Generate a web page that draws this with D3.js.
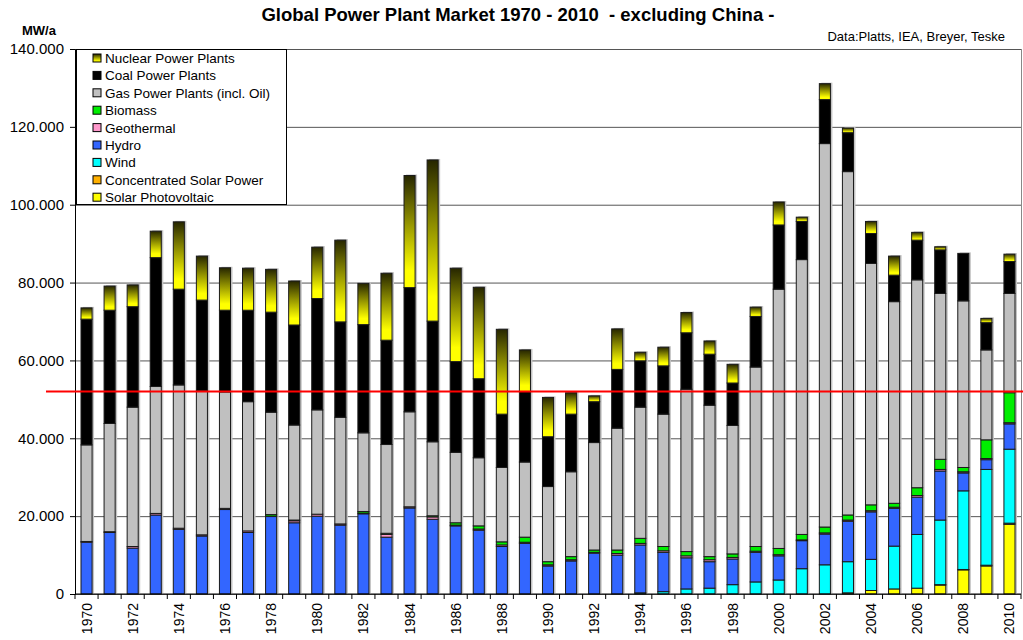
<!DOCTYPE html>
<html>
<head>
<meta charset="utf-8">
<script src="https://cdn.jsdelivr.net/npm/d3@7"></script>
<style>
  body { margin: 0; background: #fff; }
  svg { font-family: "Liberation Sans", Arial, sans-serif; }
</style>
</head>
<body>
<svg id="chart" width="1023" height="640"></svg>
<script>
// Global power plant market 1970 - 2010, MW per year (in thousands)

var years = d3.range(1970, 2011);

var solarPV    = [0,0,0,0,0,0,0,0,0,0, 0,0,0,0,0,0,0,0,0,0, 0,0,0,0,0,0,0,0,0,0, 0,0,0,0.3,0.9,1.3,1.5,2.3,6.2,7.2,17.9];
var csp        = [0,0,0,0,0,0,0,0,0,0, 0,0,0,0,0,0,0,0,0,0, 0,0,0,0,0,0,0,0,0,0, 0,0,0,0,0,0,0,0.1,0.1,0.2,0.3];
var wind       = [0,0,0,0,0,0,0,0,0,0, 0,0,0,0,0,0,0,0,0,0, 0,0,0,0,0.3,0.6,1.3,1.5,2.4,3.1, 3.6,6.5,7.5,8.0,8.0,11.0,13.8,16.6,20.2,24.6,19.0];
var hydro      = [13.3,15.8,11.8,20.3,16.6,14.9,21.7,15.8,19.9,18.3, 20.0,17.7,20.6,14.6,22.1,19.2,17.5,16.4,12.2,13.0,
                  7.2,8.5,10.5,10.0,12.3,10.1,8.0,6.8,6.6,7.6, 6.2,7.2,7.9,10.4,12.2,9.7,9.6,12.6,4.6,2.5,6.5];
var geothermal = [0.2,0.2,0.4,0.4,0.3,0.3,0.3,0.4,0.1,0.5, 0.5,0.3,0.2,0.7,0.3,0.6,0.2,0.3,0.4,0.3,
                  0.3,0.3,0.2,0.4,0.4,0.4,0.5,0.5,0.4,0.3, 0.3,0.2,0.3,0.3,0.3,0.3,0.4,0.4,0.3,0.3,0.3];
var biomass    = [0,0,0,0,0,0,0,0,0.4,0.2, 0,0,0.4,0.3,0,0.3,0.6,0.8,0.8,1.3,
                  0.8,0.8,0.6,0.9,1.3,1.1,1.1,0.8,0.9,1.2, 1.6,1.4,1.5,1.3,1.5,1.0,2.0,2.6,1.1,4.8,7.7];
var gas        = [24.8,27.8,35.8,32.6,36.8,37.0,29.9,33.2,26.3,24.4, 26.8,27.4,20.2,22.8,24.4,19.0,18.1,17.5,19.1,19.3,
                  19.3,21.8,27.6,31.3,33.7,34.0,41.7,38.9,33.0,46.1, 66.6,70.6,98.5,88.2,62.0,51.8,53.4,42.6,42.8,23.1,25.5];
var coal       = [32.3,29.1,25.8,33.1,24.6,23.3,21.0,23.5,25.7,25.7, 28.6,24.5,27.8,26.8,31.9,31.0,23.3,20.3,13.7,18.1,
                  12.8,14.8,10.5,15.1,11.9,12.4,14.5,13.1,10.9,13.0, 16.5,9.8,11.3,10.0,7.7,6.8,10.2,11.2,12.2,7.0,8.2];
var nuclear    = [2.9,6.2,5.6,6.8,17.3,11.3,10.9,10.8,11.0,11.3, 13.2,21.0,10.6,17.2,28.8,41.4,24.0,23.5,21.8,10.7,
                  10.1,5.5,1.5,10.4,2.2,4.8,5.2,3.4,4.8,2.4, 5.9,1.1,4.1,1.2,3.1,4.9,2.0,0.8,0,1.1,1.9];

var yTicks = [0, 20000, 40000, 60000, 80000, 100000, 120000, 140000];
var referenceLine = 52000;

// series from bottom to top of each bar
var seriesKeys   = ["pv", "csp", "wind", "hydro", "geo", "bio", "gas", "coal", "nuclear"];
var seriesNames  = ["Solar Photovoltaic", "Concentrated Solar Power", "Wind", "Hydro", "Geothermal",
                    "Biomass", "Gas Power Plants (incl. Oil)", "Coal Power Plants", "Nuclear Power Plants"];
var seriesValues = [solarPV, csp, wind, hydro, geothermal, biomass, gas, coal, nuclear];
var seriesColors = ["#ffff00", "#ffb000", "#00ffff", "#3366ff", "#ff99cc", "#00ee00", "#c0c0c0", "#000000", "url(#nukeGrad)"];

var table = years.map(function(yr, i) {
  var row = { year: yr };
  seriesKeys.forEach(function(k, j) { row[k] = seriesValues[j][i] * 1000; });
  return row;
});

var svg = d3.select("#chart");

var defs = svg.append("defs");
var grad = defs.append("linearGradient")
    .attr("id", "nukeGrad")
    .attr("x1", 0).attr("y1", 0).attr("x2", 0).attr("y2", 1);
grad.append("stop").attr("offset", "0%").attr("stop-color", "#262600");
grad.append("stop").attr("offset", "45%").attr("stop-color", "#9a9a00");
grad.append("stop").attr("offset", "85%").attr("stop-color", "#ffff00");
grad.append("stop").attr("offset", "100%").attr("stop-color", "#ffff00");

var plotL = 75, plotR = 1021, plotT = 49, plotB = 594;

var x = d3.scaleBand()
    .domain(years)
    .range([plotL, plotR])
    .paddingInner(0.52)
    .paddingOuter(0.26);

var y = d3.scaleLinear()
    .domain([0, 140000])
    .range([plotB, plotT]);

var de = d3.formatLocale({ decimal: ",", thousands: ".", grouping: [3], currency: ["", " €"] });
var fmt = de.format(",.0f");

// grid lines
svg.append("g")
    .attr("transform", "translate(" + plotL + ",0)")
    .call(d3.axisLeft(y).tickValues(yTicks).tickSize(-(plotR - plotL)).tickFormat(""))
    .call(function(g) {
      g.select(".domain").remove();
      g.selectAll("line").attr("stroke", "#555").attr("stroke-width", 1);
    });

// right border of plot
svg.append("line")
    .attr("x1", plotR + 0.5).attr("x2", plotR + 0.5)
    .attr("y1", y(140000)).attr("y2", plotB)
    .attr("stroke", "#888");

var stack = d3.stack().keys(seriesKeys);
var stacked = stack(table);
var tops = stacked[stacked.length - 1];

// bar shadow
svg.append("g").selectAll("rect")
  .data(tops)
  .enter().append("rect")
    .attr("x", function(d) { return x(d.data.year) + 2; })
    .attr("y", function(d) { return y(d[1]) - 1; })
    .attr("width", x.bandwidth())
    .attr("height", function(d) { return plotB - y(d[1]); })
    .attr("fill", "#c4c4c4");

var layer = svg.append("g").selectAll("g")
  .data(stacked)
  .enter().append("g")
    .attr("fill", function(d, i) { return seriesColors[i]; });

layer.selectAll("rect")
  .data(function(d) { return d.filter(function(p) { return p[1] - p[0] > 0; }); })
  .enter().append("rect")
    .attr("x", function(d) { return x(d.data.year); })
    .attr("y", function(d) { return y(d[1]); })
    .attr("width", x.bandwidth())
    .attr("height", function(d) { return y(d[0]) - y(d[1]); })
    .attr("stroke", "#1a1a1a")
    .attr("stroke-width", 1);

// y axis
svg.append("g")
    .attr("transform", "translate(" + plotL + ",0)")
    .call(d3.axisLeft(y).tickValues(yTicks).tickSize(5).tickPadding(6).tickFormat(fmt))
    .call(function(g) {
      g.select(".domain").attr("stroke", "#000");
      g.selectAll("text").attr("font-size", "15px").attr("fill", "#000")
        .attr("font-family", "'Liberation Sans', Arial, sans-serif");
    });

// x axis
var xAxis = svg.append("g")
    .attr("transform", "translate(0," + plotB + ")");
xAxis.append("line")
    .attr("x1", plotL).attr("x2", plotR)
    .attr("stroke", "#000");
xAxis.selectAll(".sep")
  .data(years.concat([2011]))
  .enter().append("line")
    .attr("x1", function(d, i) { return plotL + i * x.step(); })
    .attr("x2", function(d, i) { return plotL + i * x.step(); })
    .attr("y1", 0).attr("y2", 5)
    .attr("stroke", "#000");
xAxis.selectAll(".yr")
  .data(years.filter(function(d) { return d % 2 === 0; }))
  .enter().append("text")
    .attr("transform", function(d) {
      return "translate(" + (x(d) + x.bandwidth() / 2 + 5) + ",9) rotate(-90)";
    })
    .attr("text-anchor", "end")
    .attr("font-size", "14px")
    .text(function(d) { return d; });

// reference line
svg.append("line")
    .attr("x1", 46).attr("x2", 1023)
    .attr("y1", y(referenceLine)).attr("y2", y(referenceLine))
    .attr("stroke", "#ff0000")
    .attr("stroke-width", 2);

// legend
var legend = svg.append("g");
legend.append("rect")
    .attr("x", 76.5).attr("y", 49.5)
    .attr("width", 210).attr("height", 155)
    .attr("fill", "#fff")
    .attr("stroke", "#000");

var legendItems = seriesNames.slice().reverse();
var legendColors = seriesColors.slice().reverse();

var item = legend.selectAll(".item")
  .data(legendItems)
  .enter().append("g")
    .attr("transform", function(d, i) { return "translate(93," + (58 + i * 17.4) + ")"; });

item.append("rect")
    .attr("x", 0).attr("y", -4)
    .attr("width", 8).attr("height", 8)
    .attr("fill", function(d, i) { return legendColors[i]; })
    .attr("stroke", "#000");

item.append("text")
    .attr("x", 12).attr("y", 5)
    .attr("font-size", "13.5px")
    .text(function(d) { return d; });

// titles
svg.append("text")
    .attr("x", 518).attr("y", 21)
    .attr("text-anchor", "middle")
    .attr("font-size", "18.5px")
    .attr("font-weight", "bold")
    .attr("xml:space", "preserve")
    .text("Global Power Plant Market 1970 - 2010  - excluding China -");

svg.append("text")
    .attr("x", 22).attr("y", 35)
    .attr("font-size", "13px")
    .attr("font-weight", "bold")
    .text("MW/a");

svg.append("text")
    .attr("x", 1005).attr("y", 41)
    .attr("text-anchor", "end")
    .attr("font-size", "13px")
    .text("Data:Platts, IEA, Breyer, Teske");
</script>
</body>
</html>
